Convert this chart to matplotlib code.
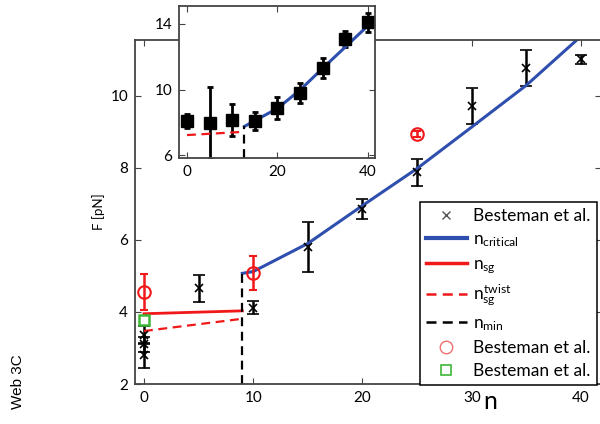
import numpy as np
import matplotlib
matplotlib.use("Agg")
import matplotlib.pyplot as plt
from matplotlib.lines import Line2D

plt.rcParams['font.family'] = ['Lato', 'DejaVu Sans']
plt.rcParams['mathtext.fontset'] = 'custom'
plt.rcParams['mathtext.rm'] = 'Lato'
plt.rcParams['mathtext.it'] = 'Lato'

# main panel data
bx_n = [0, 0, 0, 5, 10, 15, 20, 25, 30, 35, 40]
bx_F = [3.35, 3.1, 2.8, 4.65, 4.12, 5.8, 6.85, 7.87, 9.71, 10.76, 11.01]
bx_err = [0.25, 0.2, 0.35, 0.37, 0.17, 0.7, 0.27, 0.38, 0.5, 0.5, 0.12]

rc_n = [0, 10, 25]
rc_F = [4.55, 5.07, 8.93]
rc_err = [0.5, 0.47, 0.08]

gs_n = [0]
gs_F = [3.78]

crit_n = [9, 10, 15, 20, 25, 30, 35, 40]
crit_F = [5.07, 5.12, 5.9, 6.95, 7.98, 9.13, 10.29, 11.65]

sg_n = [0, 9]
sg_F = [3.95, 4.03]
twist_F = [3.47, 3.81]

nmin = 9
nmin_F = 5.07

# inset data
in_n = [0, 5, 10, 15, 20, 25, 30, 35, 40]
in_F = [8.08, 7.95, 8.14, 8.08, 8.87, 9.8, 11.3, 13.1, 14.1]
in_err = [0.4, 2.2, 1.0, 0.55, 0.7, 0.6, 0.6, 0.5, 0.6]

in_crit_n = [12.7, 20, 25, 30, 35, 40]
in_crit_F = [7.75, 8.85, 9.97, 11.3, 12.6, 13.9]
in_twist_n = [0, 12.7]
in_twist_F = [7.22, 7.42]
in_nmin = 12.7
in_nmin_F = 7.75

labels = ['Besteman et al.', r'$n_{critical}$', r'$n_{sg}$', r'$n_{sg}^{twist}$',
          r'$n_{min}$', 'Besteman et al.', 'Besteman et al.']

blue = '#2f4fae'
red = '#f01818'
green = '#3fb83a'
spine = '#444444'
dash = (0, (4, 2.5))

fig = plt.figure(figsize=(6, 4.24), dpi=100)
ax = fig.add_axes([0.225, 0.0943, 0.7767, 0.811])

ax.errorbar(bx_n, bx_F, yerr=bx_err, fmt='x', color='k', ms=6, mew=1.2,
            elinewidth=1.8, capsize=4.5, capthick=1.8)
ax.plot(crit_n, crit_F, color=blue, lw=2.2)
ax.plot(sg_n, sg_F, color=red, lw=2)
ax.plot(sg_n, twist_F, color=red, lw=1.6, ls=dash)
ax.plot([nmin, nmin], [2, nmin_F], color='k', lw=1.6, ls=dash)
ax.errorbar(rc_n, rc_F, yerr=rc_err, fmt='o', color=red, mfc='none', ms=9, mew=1.5,
            elinewidth=1.8, capsize=3, capthick=1.8)
ax.plot(gs_n, gs_F, 's', color=green, mfc='none', ms=7, mew=1.8)

ax.set_xlim(-0.82, 41.83)
ax.set_ylim(2, 11.54)
ax.set_xticks([0, 10, 20, 30, 40])
ax.set_yticks([2, 4, 6, 8, 10])
ax.tick_params(direction='in', top=True, right=True, length=4, labelsize=11,
               color=spine, pad=5)
for s in ax.spines.values():
    s.set_color(spine)
    s.set_linewidth(1.3)
ax.set_ylabel('F [pN]', fontsize=9.5, labelpad=4)
ax.text(0.762, -0.052, 'n', transform=ax.transAxes, fontsize=18,
        ha='center', va='center')

handles = [
    Line2D([], [], ls='none', marker='x', color='#555555', ms=6, mew=1),
    Line2D([], [], color=blue, lw=3),
    Line2D([], [], color=red, lw=2.5),
    Line2D([], [], color=red, lw=1.8, ls=dash),
    Line2D([], [], color='k', lw=1.8, ls=dash),
    Line2D([], [], ls='none', marker='o', color='#f07070', mfc='none', ms=9, mew=1),
    Line2D([], [], ls='none', marker='s', color=green, mfc='none', ms=7, mew=1.2),
]
leg = ax.legend(handles, labels, loc='lower right', bbox_to_anchor=(0.991, -0.003),
                fontsize=12.5, frameon=True, fancybox=False, edgecolor='k',
                framealpha=1, handlelength=2.4, handletextpad=0.35,
                labelspacing=0.4, borderpad=0.35, borderaxespad=0)
leg.get_frame().set_linewidth(1.1)

# inset
ins = fig.add_axes([0.2983, 0.6274, 0.3267, 0.3585])
ins.set_facecolor('white')
ins.errorbar(in_n, in_F, yerr=in_err, fmt='s', color='k', ms=8,
             elinewidth=2, capsize=2.5, capthick=2)
ins.plot(in_crit_n, in_crit_F, color=blue, lw=2.2)
ins.plot(in_twist_n, in_twist_F, color=red, lw=1.6, ls=dash)
ins.plot([in_nmin, in_nmin], [5.82, in_nmin_F], color='k', lw=1.6, ls=dash)
ins.set_xlim(-1.77, 41.55)
ins.set_ylim(5.82, 15.1)
ins.set_xticks([0, 20, 40])
ins.set_yticks([6, 10, 14])
ins.tick_params(direction='in', top=True, right=True, length=4, labelsize=11,
                color=spine, pad=5)
for s in ins.spines.values():
    s.set_color(spine)
    s.set_linewidth(1.3)

fig.text(0.03, 0.1, 'Web 3C', rotation=90, fontsize=11, family='Liberation Sans',
         ha='center', va='center')

fig.savefig('out.png', dpi=100)
